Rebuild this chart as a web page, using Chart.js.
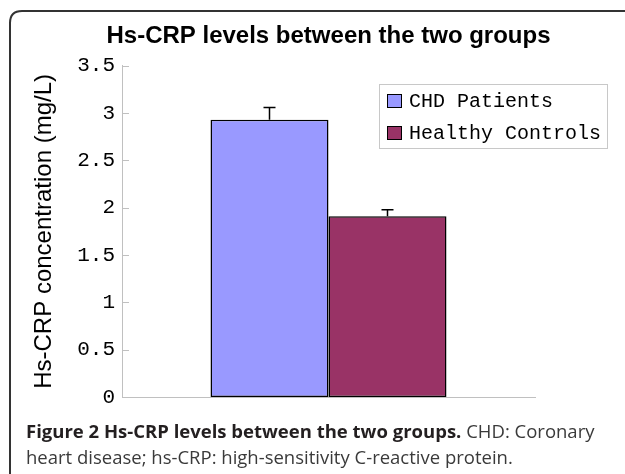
<!DOCTYPE html>
<html><head><meta charset="utf-8">
<script src="https://cdn.jsdelivr.net/npm/chart.js@4.4.1/dist/chart.umd.min.js"></script>
<style>
html,body{margin:0;padding:0;background:#fff;width:625px;height:474px;overflow:hidden;}
#wrap{position:relative;width:625px;height:474px;overflow:hidden;}
#frame{position:absolute;left:0;top:0;}
canvas{position:absolute;left:0;top:0;}
#legend{position:absolute;left:379px;top:84px;width:229px;height:65px;border:1px solid #c8c8c8;box-sizing:border-box;font-family:"Liberation Mono",monospace;font-size:20px;color:#000;}
.row{position:absolute;left:0;height:32px;display:flex;align-items:center;white-space:pre;}
.sw{display:inline-block;width:15px;height:14px;border:1.5px solid #000;box-sizing:border-box;margin-left:7px;margin-right:7px;}
#caption{position:absolute;left:26px;top:418px;font-family:"Open Sans",sans-serif;font-size:18.5px;line-height:26px;color:#3a3a3a;white-space:nowrap;}
#caption b{color:#231f20;}
</style></head>
<body><div id="wrap">
<svg id="frame" width="625" height="474"><path d="M10 474 L10 23 Q10 11 22 11 L625 11" fill="none" stroke="#333" stroke-width="2"/></svg>
<canvas id="c" width="625" height="474"></canvas>
<div id="legend"></div>
<div id="caption"><b>Figure 2 Hs-CRP levels between the two groups.</b> CHD: Coronary<br>heart disease; hs-CRP: high-sensitivity C-reactive protein.</div>
</div>
<script>
const chartTitle = "Hs-CRP levels between the two groups";
const yAxisTitle = "Hs-CRP concentration (mg/L)";
const categories = [""];
const seriesNames = ["CHD Patients", "Healthy Controls"];
const chdValues = [2.93];
const healthyValues = [1.91];
const chdErrors = [0.13];
const healthyErrors = [0.07];
const seriesColors = ["#9999FF", "#993366"];
const yMin = 0, yMax = 3.5, yStep = 0.5;

const axisGrey = "#c0c0c0";

const innerTicks = {
  id: "innerTicks",
  afterDraw(chart) {
    const y = chart.scales.y, ctx = chart.ctx, a = chart.chartArea;
    ctx.save();
    ctx.strokeStyle = axisGrey;
    ctx.lineWidth = 1;
    y.ticks.forEach(t => {
      const py = Math.round(y.getPixelForValue(t.value)) + 0.5;
      ctx.beginPath();
      ctx.moveTo(a.left, py);
      ctx.lineTo(a.left + 7, py);
      ctx.stroke();
    });
    ctx.restore();
  }
};

const errorBars = {
  id: "errorBars",
  afterDatasetsDraw(chart) {
    const ctx = chart.ctx, y = chart.scales.y;
    ctx.save();
    ctx.strokeStyle = "#000";
    ctx.lineWidth = 1.5;
    chart.data.datasets.forEach((ds, i) => {
      const meta = chart.getDatasetMeta(i);
      meta.data.forEach((bar, j) => {
        const v = ds.data[j], e = ds.errors[j];
        const x = bar.x;
        const top = y.getPixelForValue(v + e);
        const base = y.getPixelForValue(v);
        ctx.beginPath();
        ctx.moveTo(x, base);
        ctx.lineTo(x, top);
        ctx.moveTo(x - 6, top);
        ctx.lineTo(x + 6, top);
        ctx.stroke();
      });
    });
    ctx.restore();
  }
};

const chart = new Chart(document.getElementById("c"), {
  type: "bar",
  data: {
    labels: categories,
    datasets: [
      { label: seriesNames[0], data: chdValues, errors: chdErrors, backgroundColor: seriesColors[0], borderColor: "#000", borderWidth: 1.5, borderSkipped: false },
      { label: seriesNames[1], data: healthyValues, errors: healthyErrors, backgroundColor: seriesColors[1], borderColor: "#000", borderWidth: 1.5, borderSkipped: false }
    ]
  },
  options: {
    responsive: false,
    animation: false,
    devicePixelRatio: 1,
    layout: { padding: { left: 32, right: 0, top: 0, bottom: 77 } },
    datasets: { bar: { categoryPercentage: 0.5714, barPercentage: 1 } },
    plugins: {
      legend: { display: false },
      tooltip: { enabled: false },
      title: {
        display: true,
        text: chartTitle,
        color: "#000",
        font: { family: "'Liberation Sans', Arial, sans-serif", size: 24, weight: "bold", lineHeight: 1.2 },
        padding: { top: 22, bottom: 15 }
      }
    },
    scales: {
      x: {
        grid: { display: false, drawTicks: false },
        border: { display: true, color: axisGrey, width: 1 },
        ticks: { display: false }
      },
      y: {
        min: yMin, max: yMax,
        afterFit(scale) { scale.width = 90; },
        grid: { display: false, drawTicks: false },
        border: { display: true, color: axisGrey, width: 1 },
        ticks: {
          stepSize: yStep,
          padding: 7,
          color: "#000",
          font: { family: "'Liberation Mono', monospace", size: 21 },
          callback: (v) => String(v)
        },
        title: {
          display: true,
          text: yAxisTitle,
          color: "#000",
          font: { family: "'Liberation Sans', Arial, sans-serif", size: 24, lineHeight: 1.0 },
          padding: { top: 0, bottom: 0 }
        }
      },
      yRight: {
        position: "right",
        min: yMin, max: yMax,
        afterFit(scale) { scale.width = 90; },
        grid: { display: false, drawTicks: false },
        border: { display: false },
        ticks: { display: false }
      }
    }
  },
  plugins: [innerTicks, errorBars]
});

// HTML legend built from the chart's datasets
const leg = document.getElementById("legend");
chart.data.datasets.forEach((ds, i) => {
  const row = document.createElement("div");
  row.className = "row";
  row.style.top = (i * 32) + "px";
  const sw = document.createElement("span");
  sw.className = "sw";
  sw.style.background = ds.backgroundColor;
  const tx = document.createElement("span");
  tx.textContent = ds.label;
  row.appendChild(sw);
  row.appendChild(tx);
  leg.appendChild(row);
});
</script>
</body></html>
